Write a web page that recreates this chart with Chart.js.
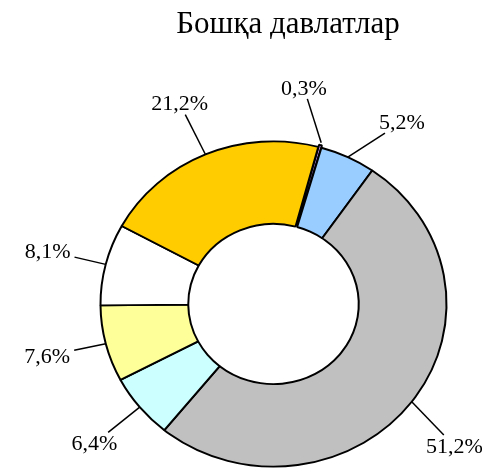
<!DOCTYPE html>
<html>
<head>
<meta charset="utf-8">
<script src="https://cdn.jsdelivr.net/npm/chart.js@4"></script>
<style>
  html, body { margin: 0; padding: 0; background: #fff; overflow: hidden; }
  canvas { display: block; }
</style>
</head>
<body>
<canvas id="donutChart" width="482" height="500"></canvas>
<script>
const chartTitle = 'Бошқа давлатлар';
const shares = [0.3, 5.2, 51.2, 6.4, 7.6, 8.1, 21.2];
const shareLabels = shares.map(v => v.toFixed(1).replace('.', ',') + '%');
const sliceColors = ['#CC99FF', '#99CCFF', '#C0C0C0', '#CCFFFF', '#FFFF99', '#FFFFFF', '#FFCC00'];
const explode = [5, 0, 0, 0, 0, 0, 0];

const squash = 0.94; // ring in the original is a little flatter than round

const squashPlugin = {
    id: 'squash',
    beforeDatasetsDraw(chart) {
        const arc = chart.getDatasetMeta(0).data[0];
        const ctx = chart.ctx;
        ctx.save();
        ctx.translate(0, arc.y);
        ctx.scale(1, squash);
        ctx.translate(0, -arc.y);
    },
    afterDatasetsDraw(chart) {
        chart.ctx.restore();
    }
};

// percent labels outside the ring with leader lines
const labelPlugin = {
    id: 'outLabels',
    afterDraw(chart) {
        const ctx = chart.ctx;
        const arcs = chart.getDatasetMeta(0).data;
        const cx = arcs[0].x, cy = arcs[0].y;
        const mids = arcs.map(a => (a.startAngle + a.endAngle) / 2);

        // spread labels that sit too close together
        const pos = mids.slice();
        const minSep = 26 * Math.PI / 180;
        for (let it = 0; it < 100; it++) {
            for (let i = 0; i < pos.length; i++) {
                const j = (i + 1) % pos.length;
                let gap = pos[j] - pos[i];
                if (j === 0) gap += 2 * Math.PI;
                if (gap < minSep) {
                    const push = (minSep - gap) / 2;
                    pos[i] -= push;
                    pos[j] += push;
                }
            }
        }

        ctx.save();
        ctx.font = '22px "Liberation Serif", "Times New Roman", serif';
        ctx.fillStyle = '#000';
        ctx.strokeStyle = '#000';
        ctx.lineWidth = 1.5;
        ctx.textAlign = 'center';
        ctx.textBaseline = 'middle';
        const W = chart.width, h = 16;
        arcs.forEach((arc, i) => {
            const R = arc.outerRadius;
            const ex = cx + (R + explode[i]) * Math.cos(mids[i]);
            const ey = cy + (R + explode[i]) * Math.sin(mids[i]) * squash;
            const text = shareLabels[i];
            const w = ctx.measureText(text).width;
            const lr = R + 37;
            let a = pos[i];
            // slide along the ring if the text would leave the canvas
            const c = Math.cos(a);
            const room = c > 0 ? W - 6 - cx : cx - 6;
            const lim = room / (lr + w);
            if (lim < 1 && Math.abs(c) > lim) {
                const na = Math.acos(lim * Math.sign(c));
                a = Math.sin(a) >= 0 ? na : -na;
            }
            const lx = cx + lr * Math.cos(a) + Math.cos(a) * w / 2;
            const ly = cy + lr * Math.sin(a) + Math.sin(a) * h / 2;
            const dx = lx - ex, dy = ly - ey;
            const hw = w / 2 + 4, hh = 11;
            const t = Math.min(hw / Math.max(Math.abs(dx), 1e-6), hh / Math.max(Math.abs(dy), 1e-6), 1);
            ctx.beginPath();
            ctx.moveTo(ex, ey);
            ctx.lineTo(lx - dx * t, ly - dy * t);
            ctx.stroke();
            ctx.fillText(text, lx, ly + 1);
        });

        ctx.font = '31px "Liberation Serif", "Times New Roman", serif';
        ctx.fillText(chartTitle, 288, 25);
        ctx.restore();
    }
};

new Chart(document.getElementById('donutChart'), {
    type: 'doughnut',
    data: {
        labels: shareLabels,
        datasets: [{
            data: shares,
            backgroundColor: sliceColors,
            borderColor: '#000',
            borderWidth: 2,
            offset: explode
        }]
    },
    options: {
        responsive: false,
        animation: false,
        events: [],
        rotation: 15,
        radius: 173,
        cutout: 86,
        layout: { padding: { left: 95, right: 30, top: 126, bottom: 18 } },
        plugins: {
            legend: { display: false },
            tooltip: { enabled: false }
        }
    },
    plugins: [squashPlugin, labelPlugin]
});
</script>
</body>
</html>
